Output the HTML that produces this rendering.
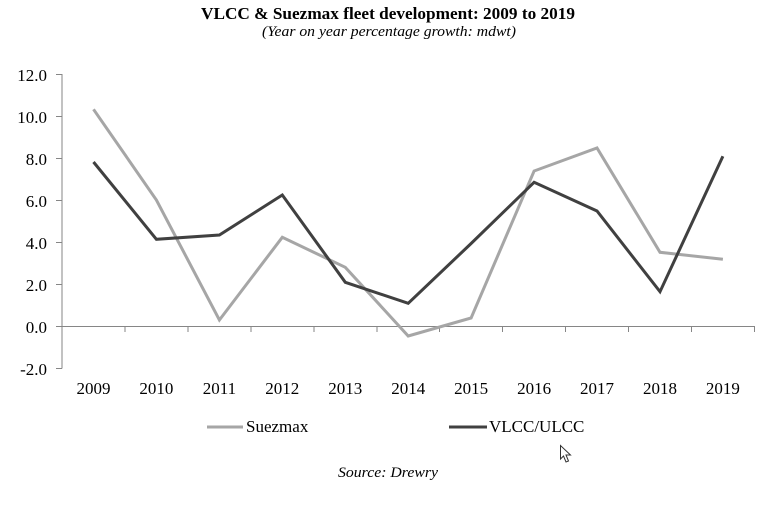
<!DOCTYPE html>
<html><head><meta charset="utf-8"><style>
html,body{margin:0;padding:0;background:#fff;}
svg{display:block;}
text{font-family:"Liberation Serif",serif;fill:#000;}
</style></head><body>
<svg width="773" height="507" viewBox="0 0 773 507" xmlns="http://www.w3.org/2000/svg">
<rect width="773" height="507" fill="#fff"/>
<text x="388" y="19" text-anchor="middle" font-size="17" font-weight="bold" textLength="374" lengthAdjust="spacingAndGlyphs">VLCC &amp; Suezmax fleet development: 2009 to 2019</text>
<text x="389" y="36" text-anchor="middle" font-size="15" font-style="italic" textLength="254" lengthAdjust="spacingAndGlyphs">(Year on year percentage growth: mdwt)</text>
<g stroke="#868686" stroke-width="1" fill="none">
<line x1="62" y1="74" x2="62" y2="368.5"/>
<line x1="56" y1="74.5" x2="62" y2="74.5"/>
<line x1="56" y1="116.5" x2="62" y2="116.5"/>
<line x1="56" y1="158.5" x2="62" y2="158.5"/>
<line x1="56" y1="200.5" x2="62" y2="200.5"/>
<line x1="56" y1="242.5" x2="62" y2="242.5"/>
<line x1="56" y1="284.5" x2="62" y2="284.5"/>
<line x1="56" y1="326.5" x2="62" y2="326.5"/>
<line x1="56" y1="368.5" x2="62" y2="368.5"/>
<line x1="62" y1="326.5" x2="755" y2="326.5"/>
<line x1="125" y1="326.5" x2="125" y2="332"/>
<line x1="188" y1="326.5" x2="188" y2="332"/>
<line x1="251" y1="326.5" x2="251" y2="332"/>
<line x1="314" y1="326.5" x2="314" y2="332"/>
<line x1="377" y1="326.5" x2="377" y2="332"/>
<line x1="439.5" y1="326.5" x2="439.5" y2="332"/>
<line x1="502.5" y1="326.5" x2="502.5" y2="332"/>
<line x1="565.5" y1="326.5" x2="565.5" y2="332"/>
<line x1="628.5" y1="326.5" x2="628.5" y2="332"/>
<line x1="691.5" y1="326.5" x2="691.5" y2="332"/>
<line x1="754.5" y1="326.5" x2="754.5" y2="332"/>
</g>
<g font-size="17" text-anchor="end">
<text x="47" y="81">12.0</text>
<text x="47" y="123">10.0</text>
<text x="47" y="165">8.0</text>
<text x="47" y="207">6.0</text>
<text x="47" y="249">4.0</text>
<text x="47" y="291">2.0</text>
<text x="47" y="333">0.0</text>
<text x="47" y="375">-2.0</text>
</g>
<g font-size="17" text-anchor="middle">
<text x="93.5" y="394">2009</text>
<text x="156.4" y="394">2010</text>
<text x="219.4" y="394">2011</text>
<text x="282.3" y="394">2012</text>
<text x="345.3" y="394">2013</text>
<text x="408.2" y="394">2014</text>
<text x="471.1" y="394">2015</text>
<text x="534.1" y="394">2016</text>
<text x="597" y="394">2017</text>
<text x="660" y="394">2018</text>
<text x="722.9" y="394">2019</text>
</g>
<polyline fill="none" stroke="#a6a6a6" stroke-width="3" stroke-linejoin="miter" points="93.5,109.3 156.4,200 219.4,320 282.3,237.3 345.3,267.3 408.2,336 471.1,318 534.1,171 597,148 660,252.3 722.9,259.3"/>
<polyline fill="none" stroke="#404040" stroke-width="3" stroke-linejoin="miter" points="93.5,162 156.4,239.3 219.4,235 282.3,195 345.3,282.3 408.2,303.3 471.1,243.5 534.1,182.3 597,211 660,291.7 722.9,156.3"/>
<line x1="207" y1="427" x2="243" y2="427" stroke="#a6a6a6" stroke-width="3"/>
<text x="246" y="432" font-size="17">Suezmax</text>
<line x1="449" y1="427" x2="487" y2="427" stroke="#404040" stroke-width="3"/>
<text x="489" y="432" font-size="17">VLCC/ULCC</text>
<text x="388" y="477" font-size="15" font-style="italic" text-anchor="middle" textLength="100" lengthAdjust="spacingAndGlyphs">Source: Drewry</text>
<path d="M560.5,445.5 L560.5,459 L563.5,456 L566,462 L568.5,461 L566,455 L570.5,455 Z" fill="#fff" stroke="#333" stroke-width="1"/>
</svg>
</body></html>
